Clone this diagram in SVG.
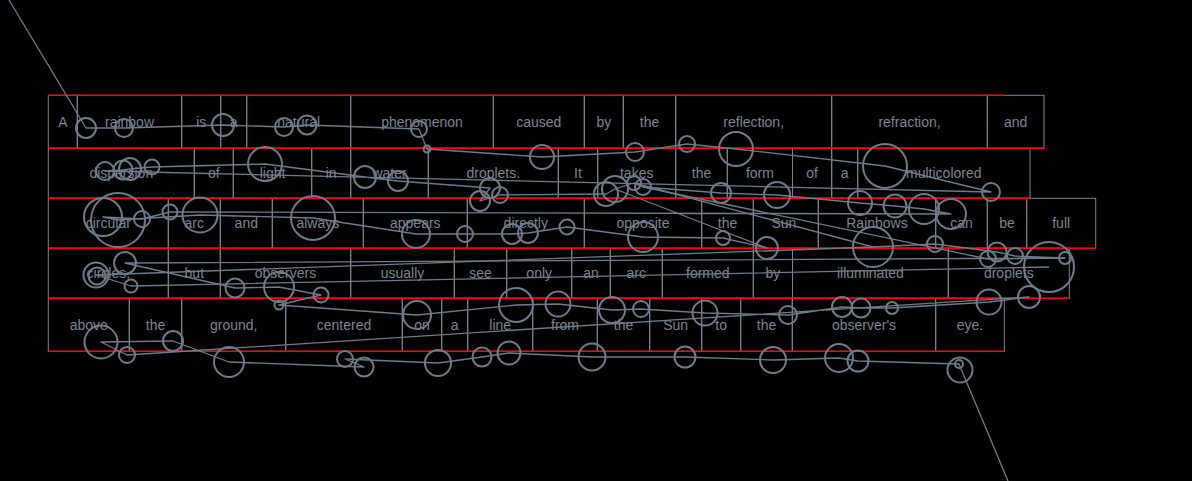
<svg xmlns="http://www.w3.org/2000/svg" width="1192" height="481" viewBox="0 0 1192 481">
<style>
.cell{fill:none;stroke:#7b8594;stroke-width:1}
.w{font-family:"Liberation Sans",Arial,sans-serif;font-size:14px;fill:#7b8594;text-anchor:middle}
.red{stroke:#ff0000;stroke-width:1.5;fill:none}
.path{fill:none;stroke:#6f7b8a;stroke-width:1.3;stroke-linejoin:round}
.fx{fill:none;stroke:#6f7b8a;stroke-width:2}
</style>
<rect width="1192" height="481" fill="#000"/>
<g id="row1">
<g id="w1-1"><rect class="cell" x="48.3" y="95.3" width="29" height="53"/><text class="w" x="62.8" y="126.7">A</text></g>
<g id="w1-2"><rect class="cell" x="77.3" y="95.3" width="104.4" height="53"/><text class="w" x="129.5" y="126.7">rainbow</text></g>
<g id="w1-3"><rect class="cell" x="181.7" y="95.3" width="39" height="53"/><text class="w" x="201.2" y="126.7">is</text></g>
<g id="w1-4"><rect class="cell" x="220.7" y="95.3" width="26" height="53"/><text class="w" x="233.7" y="126.7">a</text></g>
<g id="w1-5"><rect class="cell" x="246.7" y="95.3" width="104" height="53"/><text class="w" x="298.7" y="126.7">natural</text></g>
<g id="w1-6"><rect class="cell" x="350.7" y="95.3" width="142.6" height="53"/><text class="w" x="422" y="126.7">phenomenon</text></g>
<g id="w1-7"><rect class="cell" x="493.3" y="95.3" width="91" height="53"/><text class="w" x="538.8" y="126.7">caused</text></g>
<g id="w1-8"><rect class="cell" x="584.3" y="95.3" width="39" height="53"/><text class="w" x="603.8" y="126.7">by</text></g>
<g id="w1-9"><rect class="cell" x="623.3" y="95.3" width="52.4" height="53"/><text class="w" x="649.5" y="126.7">the</text></g>
<g id="w1-10"><rect class="cell" x="675.7" y="95.3" width="156" height="53"/><text class="w" x="753.7" y="126.7">reflection,</text></g>
<g id="w1-11"><rect class="cell" x="831.7" y="95.3" width="155.6" height="53"/><text class="w" x="909.5" y="126.7">refraction,</text></g>
<g id="w1-12"><rect class="cell" x="987.3" y="95.3" width="56.7" height="53"/><text class="w" x="1015.6" y="126.7">and</text></g>
</g>
<g id="row2">
<g id="w2-1"><rect class="cell" x="48.3" y="148.3" width="146" height="50"/><text class="w" x="121.3" y="178.3">dispersion</text></g>
<g id="w2-2"><rect class="cell" x="194.3" y="148.3" width="39" height="50"/><text class="w" x="213.8" y="178.3">of</text></g>
<g id="w2-3"><rect class="cell" x="233.3" y="148.3" width="78.4" height="50"/><text class="w" x="272.5" y="178.3">light</text></g>
<g id="w2-4"><rect class="cell" x="311.7" y="148.3" width="39" height="50"/><text class="w" x="331.2" y="178.3">in</text></g>
<g id="w2-5"><rect class="cell" x="350.7" y="148.3" width="77.6" height="50"/><text class="w" x="389.5" y="178.3">water</text></g>
<g id="w2-6"><rect class="cell" x="428.3" y="148.3" width="130" height="50"/><text class="w" x="493.3" y="178.3">droplets.</text></g>
<g id="w2-7"><rect class="cell" x="558.3" y="148.3" width="39.4" height="50"/><text class="w" x="578" y="178.3">It</text></g>
<g id="w2-8"><rect class="cell" x="597.7" y="148.3" width="78" height="50"/><text class="w" x="636.7" y="178.3">takes</text></g>
<g id="w2-9"><rect class="cell" x="675.7" y="148.3" width="51.6" height="50"/><text class="w" x="701.5" y="178.3">the</text></g>
<g id="w2-10"><rect class="cell" x="727.3" y="148.3" width="65.2" height="50"/><text class="w" x="759.9" y="178.3">form</text></g>
<g id="w2-11"><rect class="cell" x="792.5" y="148.3" width="39.2" height="50"/><text class="w" x="812.1" y="178.3">of</text></g>
<g id="w2-12"><rect class="cell" x="831.7" y="148.3" width="26" height="50"/><text class="w" x="844.7" y="178.3">a</text></g>
<g id="w2-13"><rect class="cell" x="857.7" y="148.3" width="172.3" height="50"/><text class="w" x="943.8" y="178.3">multicolored</text></g>
</g>
<g id="row3">
<g id="w3-1"><rect class="cell" x="48.3" y="198.3" width="120" height="50"/><text class="w" x="108.3" y="228.3">circular</text></g>
<g id="w3-2"><rect class="cell" x="168.3" y="198.3" width="52" height="50"/><text class="w" x="194.3" y="228.3">arc</text></g>
<g id="w3-3"><rect class="cell" x="220.3" y="198.3" width="52" height="50"/><text class="w" x="246.3" y="228.3">and</text></g>
<g id="w3-4"><rect class="cell" x="272.3" y="198.3" width="91" height="50"/><text class="w" x="317.8" y="228.3">always</text></g>
<g id="w3-5"><rect class="cell" x="363.3" y="198.3" width="104" height="50"/><text class="w" x="415.3" y="228.3">appears</text></g>
<g id="w3-6"><rect class="cell" x="467.3" y="198.3" width="117" height="50"/><text class="w" x="525.8" y="228.3">directly</text></g>
<g id="w3-7"><rect class="cell" x="584.3" y="198.3" width="117.4" height="50"/><text class="w" x="643" y="228.3">opposite</text></g>
<g id="w3-8"><rect class="cell" x="701.7" y="198.3" width="51.6" height="50"/><text class="w" x="727.5" y="228.3">the</text></g>
<g id="w3-9"><rect class="cell" x="753.3" y="198.3" width="65" height="50"/><text class="w" x="785.8" y="228.3">Sun.</text></g>
<g id="w3-10"><rect class="cell" x="818.3" y="198.3" width="117.4" height="50"/><text class="w" x="877" y="228.3">Rainbows</text></g>
<g id="w3-11"><rect class="cell" x="935.7" y="198.3" width="51.6" height="50"/><text class="w" x="961.5" y="228.3">can</text></g>
<g id="w3-12"><rect class="cell" x="987.3" y="198.3" width="39.4" height="50"/><text class="w" x="1007" y="228.3">be</text></g>
<g id="w3-13"><rect class="cell" x="1026.7" y="198.3" width="69" height="50"/><text class="w" x="1061.2" y="228.3">full</text></g>
</g>
<g id="row4">
<g id="w4-1"><rect class="cell" x="48.3" y="248.3" width="120" height="50"/><text class="w" x="108.3" y="278.3">circles,</text></g>
<g id="w4-2"><rect class="cell" x="168.3" y="248.3" width="52" height="50"/><text class="w" x="194.3" y="278.3">but</text></g>
<g id="w4-3"><rect class="cell" x="220.3" y="248.3" width="130.4" height="50"/><text class="w" x="285.5" y="278.3">observers</text></g>
<g id="w4-4"><rect class="cell" x="350.7" y="248.3" width="103.6" height="50"/><text class="w" x="402.5" y="278.3">usually</text></g>
<g id="w4-5"><rect class="cell" x="454.3" y="248.3" width="52.4" height="50"/><text class="w" x="480.5" y="278.3">see</text></g>
<g id="w4-6"><rect class="cell" x="506.7" y="248.3" width="65" height="50"/><text class="w" x="539.2" y="278.3">only</text></g>
<g id="w4-7"><rect class="cell" x="571.7" y="248.3" width="38.6" height="50"/><text class="w" x="591" y="278.3">an</text></g>
<g id="w4-8"><rect class="cell" x="610.3" y="248.3" width="52" height="50"/><text class="w" x="636.3" y="278.3">arc</text></g>
<g id="w4-9"><rect class="cell" x="662.3" y="248.3" width="91" height="50"/><text class="w" x="707.8" y="278.3">formed</text></g>
<g id="w4-10"><rect class="cell" x="753.3" y="248.3" width="39.2" height="50"/><text class="w" x="772.9" y="278.3">by</text></g>
<g id="w4-11"><rect class="cell" x="792.5" y="248.3" width="155.8" height="50"/><text class="w" x="870.4" y="278.3">illuminated</text></g>
<g id="w4-12"><rect class="cell" x="948.3" y="248.3" width="121" height="50"/><text class="w" x="1008.8" y="278.3">droplets</text></g>
</g>
<g id="row5">
<g id="w5-1"><rect class="cell" x="48.3" y="298.3" width="81" height="53"/><text class="w" x="88.8" y="329.8">above</text></g>
<g id="w5-2"><rect class="cell" x="129.3" y="298.3" width="52.4" height="53"/><text class="w" x="155.5" y="329.8">the</text></g>
<g id="w5-3"><rect class="cell" x="181.7" y="298.3" width="104" height="53"/><text class="w" x="233.7" y="329.8">ground,</text></g>
<g id="w5-4"><rect class="cell" x="285.7" y="298.3" width="116.6" height="53"/><text class="w" x="344" y="329.8">centered</text></g>
<g id="w5-5"><rect class="cell" x="402.3" y="298.3" width="39.4" height="53"/><text class="w" x="422" y="329.8">on</text></g>
<g id="w5-6"><rect class="cell" x="441.7" y="298.3" width="26" height="53"/><text class="w" x="454.7" y="329.8">a</text></g>
<g id="w5-7"><rect class="cell" x="467.7" y="298.3" width="65" height="53"/><text class="w" x="500.2" y="329.8">line</text></g>
<g id="w5-8"><rect class="cell" x="532.7" y="298.3" width="64.6" height="53"/><text class="w" x="565" y="329.8">from</text></g>
<g id="w5-9"><rect class="cell" x="597.3" y="298.3" width="52.4" height="53"/><text class="w" x="623.5" y="329.8">the</text></g>
<g id="w5-10"><rect class="cell" x="649.7" y="298.3" width="52" height="53"/><text class="w" x="675.7" y="329.8">Sun</text></g>
<g id="w5-11"><rect class="cell" x="701.7" y="298.3" width="39" height="53"/><text class="w" x="721.2" y="329.8">to</text></g>
<g id="w5-12"><rect class="cell" x="740.7" y="298.3" width="51.6" height="53"/><text class="w" x="766.5" y="329.8">the</text></g>
<g id="w5-13"><rect class="cell" x="792.3" y="298.3" width="143.4" height="53"/><text class="w" x="864" y="329.8">observer's</text></g>
<g id="w5-14"><rect class="cell" x="935.7" y="298.3" width="68.6" height="53"/><text class="w" x="970" y="329.8">eye.</text></g>
</g>
<g id="line-separators">
<line class="red" x1="48.3" y1="95.3" x2="1004.3" y2="95.3"/>
<line class="red" x1="48.3" y1="148.3" x2="1044" y2="148.3"/>
<line class="red" x1="48.3" y1="198.3" x2="1030" y2="198.3"/>
<line class="red" x1="48.3" y1="248.3" x2="1095.7" y2="248.3"/>
<line class="red" x1="48.3" y1="298.3" x2="1069.3" y2="298.3"/>
<line class="red" x1="48.3" y1="351.3" x2="1004.3" y2="351.3"/>
</g>
<g id="connectors">
<polyline class="path" points="9,0 86,128 124,128 223,125 284,127 307,125 419,129 427,149 542,157 635,152 687,144 736,149 885,166 991,192 105,171 123,170 130,169 152,167 265,164 365,177 398,181 490,188 480,201 500,195 606,194 615,189 634,183 643,187 721,193 777,195 860,203 895,206 924,209 951,214 170,212 142,219 103,217 118,220 200,215 313,218 416,234 465,234 512,234 528,233 567,227 643,237 723,238 767,248 615,189"/>
<polyline class="path" points="634,183 873,247 935,244 997,252 1015,256 1065,258 125,263 235,288 279,287 321,295 279,305 417,315 516,305 558,304 612,310 641,309 705,313 788,315 842,307 861,308 892,308 989,302 1029,297 127,355 101,342 173,341 229,362 364,367 345,359 438,363 482,357 509,353 592,357 685,357 773,360 839,358 858,361 959,364 1008,481"/>
<polyline class="path" points="643,187 988,259 1065,258"/>
<polyline class="path" points="873,247 96,275 131,286 1049,267"/>
</g>
<g id="fixations">
<circle class="fx" cx="86" cy="128" r="10"/>
<circle class="fx" cx="124" cy="128" r="9"/>
<circle class="fx" cx="223" cy="125" r="11"/>
<circle class="fx" cx="284" cy="127" r="9"/>
<circle class="fx" cx="307" cy="125" r="9.5"/>
<circle class="fx" cx="419" cy="129" r="8"/>
<circle class="fx" cx="427" cy="149" r="3.5"/>
<circle class="fx" cx="542" cy="157" r="12"/>
<circle class="fx" cx="635" cy="152" r="9"/>
<circle class="fx" cx="687" cy="144" r="8"/>
<circle class="fx" cx="736" cy="149" r="17"/>
<circle class="fx" cx="885" cy="166" r="22"/>
<circle class="fx" cx="991" cy="192" r="9"/>
<circle class="fx" cx="105" cy="171" r="9"/>
<circle class="fx" cx="123" cy="170" r="9.5"/>
<circle class="fx" cx="130" cy="169" r="11"/>
<circle class="fx" cx="152" cy="167" r="7.5"/>
<circle class="fx" cx="265" cy="164" r="17"/>
<circle class="fx" cx="365" cy="177" r="11"/>
<circle class="fx" cx="398" cy="181" r="10"/>
<circle class="fx" cx="490" cy="188" r="10"/>
<circle class="fx" cx="500" cy="195" r="8"/>
<circle class="fx" cx="480" cy="201" r="10"/>
<circle class="fx" cx="606" cy="194" r="12"/>
<circle class="fx" cx="615" cy="189" r="13"/>
<circle class="fx" cx="634" cy="183" r="7"/>
<circle class="fx" cx="643" cy="187" r="8"/>
<circle class="fx" cx="721" cy="193" r="10"/>
<circle class="fx" cx="777" cy="195" r="13"/>
<circle class="fx" cx="860" cy="203" r="12"/>
<circle class="fx" cx="895" cy="206" r="11.5"/>
<circle class="fx" cx="924" cy="209" r="15"/>
<circle class="fx" cx="951" cy="214" r="15"/>
<circle class="fx" cx="103" cy="217" r="19"/>
<circle class="fx" cx="118" cy="220" r="27"/>
<circle class="fx" cx="142" cy="219" r="8"/>
<circle class="fx" cx="170" cy="212" r="7.5"/>
<circle class="fx" cx="200" cy="215" r="17.5"/>
<circle class="fx" cx="313" cy="218" r="22"/>
<circle class="fx" cx="416" cy="234" r="14"/>
<circle class="fx" cx="465" cy="234" r="8"/>
<circle class="fx" cx="512" cy="234" r="10"/>
<circle class="fx" cx="528" cy="233" r="10"/>
<circle class="fx" cx="567" cy="227" r="7.5"/>
<circle class="fx" cx="643" cy="237" r="15"/>
<circle class="fx" cx="723" cy="238" r="7"/>
<circle class="fx" cx="767" cy="248" r="11"/>
<circle class="fx" cx="873" cy="247" r="20"/>
<circle class="fx" cx="935" cy="244" r="8"/>
<circle class="fx" cx="997" cy="252" r="9.5"/>
<circle class="fx" cx="988" cy="259" r="8"/>
<circle class="fx" cx="1015" cy="256" r="8"/>
<circle class="fx" cx="1049" cy="267" r="25"/>
<circle class="fx" cx="1065" cy="258" r="6"/>
<circle class="fx" cx="96" cy="275" r="12.5"/>
<circle class="fx" cx="97" cy="276" r="8.5"/>
<circle class="fx" cx="125" cy="263" r="11"/>
<circle class="fx" cx="131" cy="286" r="6.5"/>
<circle class="fx" cx="235" cy="288" r="9.5"/>
<circle class="fx" cx="279" cy="287" r="15"/>
<circle class="fx" cx="321" cy="295" r="7.5"/>
<circle class="fx" cx="279" cy="305" r="4.5"/>
<circle class="fx" cx="417" cy="315" r="14"/>
<circle class="fx" cx="516" cy="305" r="17"/>
<circle class="fx" cx="558" cy="304" r="12.5"/>
<circle class="fx" cx="612" cy="310" r="13"/>
<circle class="fx" cx="641" cy="309" r="8"/>
<circle class="fx" cx="705" cy="313" r="12.5"/>
<circle class="fx" cx="788" cy="315" r="9"/>
<circle class="fx" cx="842" cy="307" r="10"/>
<circle class="fx" cx="861" cy="308" r="9.5"/>
<circle class="fx" cx="892" cy="308" r="6"/>
<circle class="fx" cx="989" cy="302" r="12.5"/>
<circle class="fx" cx="1029" cy="297" r="11"/>
<circle class="fx" cx="101" cy="342" r="16.5"/>
<circle class="fx" cx="127" cy="355" r="8"/>
<circle class="fx" cx="173" cy="341" r="10"/>
<circle class="fx" cx="229" cy="362" r="15"/>
<circle class="fx" cx="345" cy="359" r="8"/>
<circle class="fx" cx="364" cy="367" r="9.5"/>
<circle class="fx" cx="438" cy="363" r="13"/>
<circle class="fx" cx="482" cy="357" r="9.5"/>
<circle class="fx" cx="509" cy="353" r="11.5"/>
<circle class="fx" cx="592" cy="357" r="13.5"/>
<circle class="fx" cx="685" cy="357" r="10.5"/>
<circle class="fx" cx="773" cy="360" r="13"/>
<circle class="fx" cx="839" cy="358" r="14"/>
<circle class="fx" cx="858" cy="361" r="10.5"/>
<circle class="fx" cx="960" cy="370" r="12.5"/>
<circle class="fx" cx="959" cy="364" r="4"/>
</g>
</svg>
